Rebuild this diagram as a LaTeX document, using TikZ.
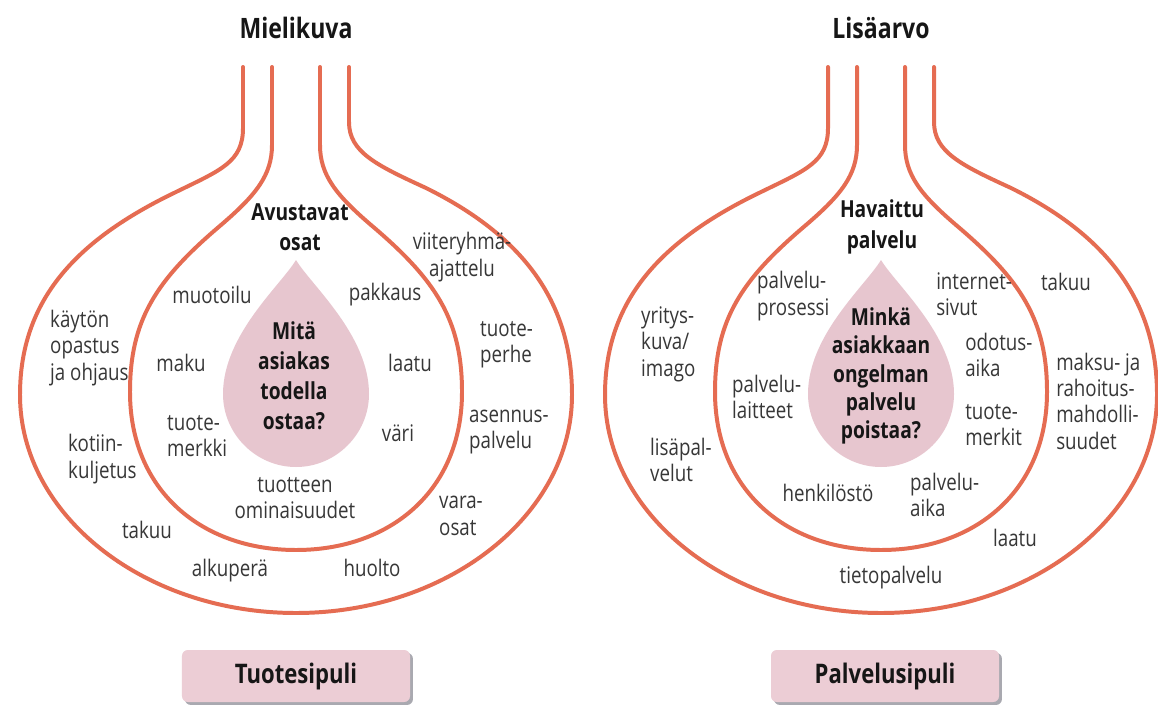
\documentclass[tikz,border=0pt]{standalone}
\usepackage{fontspec}
\setmainfont{Open Sans}[FakeStretch=0.82]
\usetikzlibrary{shadows}
\definecolor{onion}{RGB}{229,108,82}
\definecolor{drop}{RGB}{231,198,207}
\definecolor{boxfill}{RGB}{236,205,213}
\definecolor{shadowc}{RGB}{160,160,168}
\definecolor{txt}{RGB}{55,55,55}
\definecolor{txtb}{RGB}{22,22,22}
\newcommand\lblfont{\fontsize{19.5}{22.5}\selectfont}
\newcommand\bldfont{\bfseries\fontsize{20}{26}\selectfont}
\newcommand\dropfont{\bfseries\fontsize{20}{25.5}\selectfont}
\newcommand\dropfontb{\bfseries\fontsize{20}{24}\selectfont}
\newcommand\ttlfont{\bfseries\fontsize{24}{28}\selectfont}
\newcommand\boxfont{\bfseries\fontsize{23}{27}\selectfont}
\tikzset{
  onionline/.style={draw=onion, line width=3.4pt, line cap=round},
  dropshape/.style={fill=drop, draw=none},
  lbl/.style={font=\lblfont, text=txt, inner sep=0pt, align=center},
  lbll/.style={lbl, align=left, anchor=west},
  bld/.style={font=\bldfont, text=txtb, inner sep=0pt, align=center},
  droptext/.style={font=\dropfont, text=txtb, inner sep=0pt, align=center},
  droptextb/.style={font=\dropfontb, text=txtb, inner sep=0pt, align=center},
  ttl/.style={font=\ttlfont, text=txtb, inner sep=0pt},
  namebox/.style={fill=boxfill, rounded corners=5pt, minimum width=6.84cm,
    minimum height=1.56cm, font=\boxfont, text=txtb, inner sep=0pt,
    drop shadow={shadow xshift=2.5pt, shadow yshift=-2.5pt, fill=shadowc, opacity=0.9}},
}
\newcommand\onionshape{%
  \draw[onionline] (-53,67) -- (-53,128)
    .. controls (-53,162) and (-75,170) .. (-120,192)
    .. controls (-220,240) and (-276,300) .. (-276,395)
    .. controls (-276,515) and (-152,613) .. (0,613)
    .. controls (152,613) and (276,515) .. (276,395)
    .. controls (276,300) and (225,235) .. (130,188)
    .. controls (80,165) and (53,152) .. (53,122) -- (53,67);
  \draw[onionline] (-24,67) -- (-24,145)
    .. controls (-24,175) and (-40,195) .. (-75,225)
    .. controls (-140,280) and (-166,320) .. (-166,392)
    .. controls (-166,490) and (-95,550) .. (0,550)
    .. controls (95,550) and (166,490) .. (166,392)
    .. controls (166,320) and (140,280) .. (75,225)
    .. controls (40,195) and (24,175) .. (24,145) -- (24,67);
  \fill[dropshape] (0,260) .. controls (-15,285) and (-73,335) .. (-73,394)
    .. controls (-73,434) and (-40,467) .. (0,467)
    .. controls (40,467) and (73,434) .. (73,394)
    .. controls (73,335) and (15,285) .. (0,260) -- cycle;
}
\begin{document}
\begin{tikzpicture}[x=0.03cm, y=-0.03cm]
\useasboundingbox[fill=white] (0,0) rectangle (1158,707);

% ---------- left onion ----------
\begin{scope}[shift={(296,0)}]
  \onionshape
\end{scope}
\node[ttl] (t1) at (296,28) {Mielikuva};
\node[bld] (av) at (300,227) {Avustavat\\osat};
\node[droptext] (q1) at (294,376) {Mitä\\asiakas\\todella\\ostaa?};
\node[lbl] (muo) at (212,295) {muotoilu};
\node[lbl] (pak) at (385,295) {pakkaus};
\node[lbl] (vii) at (462,257) {viiteryhmä-\\ajattelu};
\node[lbll] (kay) at (50,348) {käytön\\opastus\\ja ohjaus};
\node[lbll] (kot) at (68,459) {kotiin-\\kuljetus};
\node[lbl] (mak) at (181,363) {maku};
\node[lbll] (tm1) at (167,436) {tuote-\\merkki};
\node[lbl] (laa1) at (410,363) {laatu};
\node[lbl] (var) at (398,433) {väri};
\node[lbll] (tp) at (480,345) {tuote-\\perhe};
\node[lbll] (ase) at (469,432) {asennus-\\palvelu};
\node[lbl] (omi) at (295,498) {tuotteen\\ominaisuudet};
\node[lbl] (tak1) at (147,530) {takuu};
\node[lbll] (vos) at (439,516) {vara-\\osat};
\node[lbl] (alk) at (230,571) {alkuperä};
\node[lbl] (huo) at (372,568) {huolto};
\node[namebox] (b1) at (296,676) {Tuotesipuli};

% ---------- right onion ----------
\begin{scope}[shift={(881,0)}]
  \onionshape
\end{scope}
\node[ttl] (t2) at (881,28) {Lisäarvo};
\node[bld] (hav) at (882,227) {Havaittu\\palvelu};
\node[droptextb] (q2) at (881,376) {Minkä\\asiakkaan\\ongelman\\palvelu\\poistaa?};
\node[lbll] (ppr) at (757,296) {palvelu-\\prosessi};
\node[lbll] (int) at (936,294) {internet-\\sivut};
\node[lbl] (tak2) at (1066,282) {takuu};
\node[lbll] (yri) at (641,344) {yritys-\\kuva/\\imago};
\node[lbll] (odo) at (965,355) {odotus-\\aika};
\node[lbll] (mks) at (1056,401) {maksu- ja\\rahoitus-\\mahdolli-\\suudet};
\node[lbll] (pla) at (732,397) {palvelu-\\laitteet};
\node[lbll] (tm2) at (965,425) {tuote-\\merkit};
\node[lbll] (lis) at (650,460) {lisäpal-\\velut};
\node[lbl] (hen) at (828,493) {henkilöstö};
\node[lbll] (pai) at (910,495) {palvelu-\\aika};
\node[lbl] (laa2) at (1015,538) {laatu};
\node[lbl] (tie) at (891,578) {tietopalvelu};
\node[namebox] (b2) at (885,676) {Palvelusipuli};
\end{tikzpicture}
\end{document}
